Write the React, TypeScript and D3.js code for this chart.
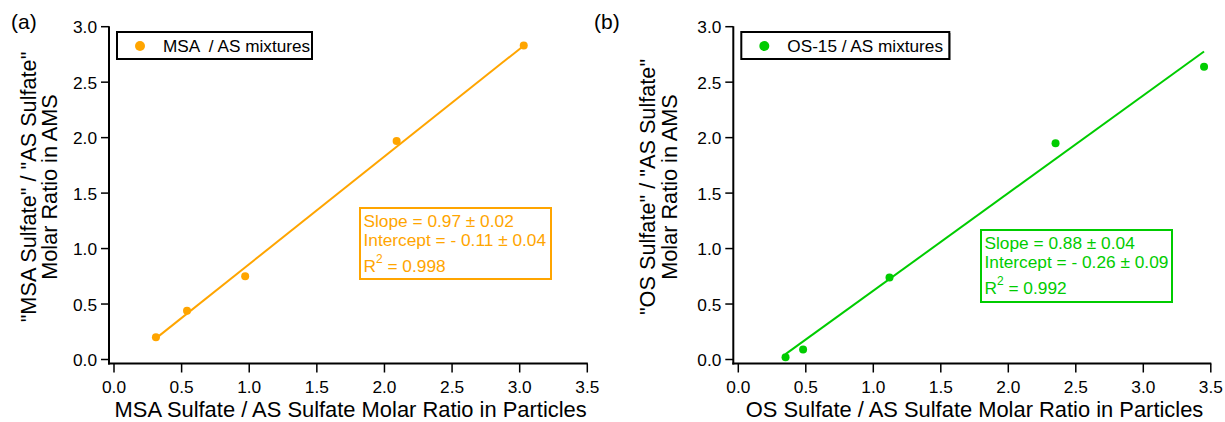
import React from "react";
import * as d3 from "d3";

// ---- data ----
const msaX = [0.31, 0.54, 0.97, 2.09, 3.03];
const msaY = [0.2, 0.44, 0.75, 1.97, 2.83];
const osX = [0.35, 0.48, 1.12, 2.35, 3.45];
const osY = [0.02, 0.09, 0.74, 1.95, 2.64];

const msaFit = { slope: 0.97, intercept: -0.11 };
const osFit = { slope: 0.88, intercept: -0.26 };

const xTicks = [0, 0.5, 1, 1.5, 2, 2.5, 3, 3.5];
const yTicks = [0, 0.5, 1, 1.5, 2, 2.5, 3];

const msaStats = ["Slope = 0.97 ± 0.02", "Intercept = - 0.11 ± 0.04", "0.998"];
const osStats = ["Slope = 0.88 ± 0.04", "Intercept = - 0.26 ± 0.09", "0.992"];

const FONT = "'Liberation Sans', Arial, sans-serif";

type PanelProps = {
  xs: number[];
  ys: number[];
  fit: { slope: number; intercept: number };
  stats: string[];
  color: string;
  label: string;
  legend: string;
  legendW: number;
  yTitle1: string;
  xTitle: string;
  x0: number;
  x35: number;
  statBox: { x: number; y: number; w: number; h: number };
  titleX1: number;
  titleX2: number;
  labelX: number;
};

function Panel(p: PanelProps) {
  const x = d3.scaleLinear().domain([0, 3.5]).range([p.x0, p.x35]);
  const y = d3.scaleLinear().domain([0, 3]).range([359.5, 26.7]);
  const axX = p.x0 - 5;
  const axY = y(0) + 4;
  const xmin = d3.min(p.xs) as number;
  const xmax = d3.max(p.xs) as number;
  const line = d3
    .line<number>()
    .x((d) => x(d))
    .y((d) => y(p.fit.slope * d + p.fit.intercept));
  const fmt = d3.format(".1f");
  const sb = p.statBox;
  const titleCy = 187;
  return (
    <g fontFamily={FONT}>
      <text x={p.labelX} y={29} fontSize={21} fill="#000">
        {p.label}
      </text>
      {/* y axis */}
      <line x1={axX} x2={axX} y1={y(3) - 0.5} y2={axY + 1} stroke="#000" strokeWidth={2} />
      {yTicks.map((t) => (
        <g key={"y" + t}>
          <line x1={axX - 8} x2={axX} y1={y(t)} y2={y(t)} stroke="#000" strokeWidth={1.5} />
          <text x={axX - 12} y={y(t) + 6.5} fontSize={17.3} textAnchor="end" fill="#000">
            {fmt(t)}
          </text>
        </g>
      ))}
      {/* x axis */}
      <line x1={axX - 1} x2={x(3.5) + 0.5} y1={axY} y2={axY} stroke="#000" strokeWidth={2} />
      {xTicks.map((t) => (
        <g key={"x" + t}>
          <line x1={x(t)} x2={x(t)} y1={axY} y2={axY + 9} stroke="#000" strokeWidth={1.5} />
          <text x={x(t)} y={392.5} fontSize={17.3} textAnchor="middle" fill="#000">
            {fmt(t)}
          </text>
        </g>
      ))}
      {/* titles */}
      <text
        transform={`translate(${p.titleX1},${titleCy}) rotate(-90)`}
        fontSize={21.7}
        textAnchor="middle"
        fill="#000"
      >
        {p.yTitle1}
      </text>
      <text
        transform={`translate(${p.titleX2},${titleCy}) rotate(-90)`}
        fontSize={21.7}
        textAnchor="middle"
        fill="#000"
      >
        Molar Ratio in AMS
      </text>
      <text x={(x(0) + x(3.5)) / 2} y={416.5} fontSize={21.9} textAnchor="middle" fill="#000">
        {p.xTitle}
      </text>
      {/* legend */}
      <rect x={axX + 9} y={33} width={p.legendW} height={27} fill="#000" />
      <rect x={axX + 8} y={32} width={p.legendW} height={27} fill="#fff" stroke="#000" strokeWidth={2} />
      <circle cx={axX + 31} cy={46} r={5} fill={p.color} />
      <text x={axX + 54} y={51.5} fontSize={17.2} fill="#000" style={{ whiteSpace: "pre" }}>
        {p.legend}
      </text>
      {/* fit line */}
      <path d={line([xmin, xmax]) || ""} fill="none" stroke={p.color} strokeWidth={2} />
      {/* points */}
      {p.xs.map((v, i) => (
        <circle key={i} cx={x(v)} cy={y(p.ys[i])} r={4} fill={p.color} />
      ))}
      {/* stats box */}
      <rect x={sb.x} y={sb.y} width={sb.w} height={sb.h} fill="#fff" stroke={p.color} strokeWidth={2} />
      <text x={sb.x + 3.5} y={sb.y + 18.5} fontSize={17.3} fill={p.color}>
        {p.stats[0]}
      </text>
      <text x={sb.x + 3.5} y={sb.y + 38} fontSize={17.3} fill={p.color}>
        {p.stats[1]}
      </text>
      <text x={sb.x + 3.5} y={sb.y + 64} fontSize={17.3} fill={p.color}>
        <tspan>R</tspan>
        <tspan dy={-9} fontSize={12}>
          2
        </tspan>
        <tspan dy={9}>{" = " + p.stats[2]}</tspan>
      </text>
    </g>
  );
}

export default function App() {
  return (
    <svg
      width={1225}
      height={422}
      viewBox="0 0 1225 422"
      style={{ position: "absolute", left: 0, top: 0, background: "#fff" }}
    >
      <rect width={1225} height={422} fill="#fff" />
      <Panel
        xs={msaX}
        ys={msaY}
        fit={msaFit}
        stats={msaStats}
        color="#ffa500"
        label="(a)"
        legend="MSA  / AS mixtures"
        legendW={195}
        yTitle1={'"MSA Sulfate" / "AS Sulfate"'}
        xTitle="MSA Sulfate / AS Sulfate Molar Ratio in Particles"
        x0={114}
        x35={587.3}
        statBox={{ x: 360, y: 208, w: 191, h: 71 }}
        titleX1={36}
        titleX2={57}
        labelX={11}
      />
      <Panel
        xs={osX}
        ys={osY}
        fit={osFit}
        stats={osStats}
        color="#00cc00"
        label="(b)"
        legend="OS-15 / AS mixtures"
        legendW={208}
        yTitle1={'"OS Sulfate" / "AS Sulfate"'}
        xTitle="OS Sulfate / AS Sulfate Molar Ratio in Particles"
        x0={738.3}
        x35={1210.8}
        statBox={{ x: 981, y: 230, w: 191, h: 72 }}
        titleX1={655}
        titleX2={677}
        labelX={594}
      />
    </svg>
  );
}
